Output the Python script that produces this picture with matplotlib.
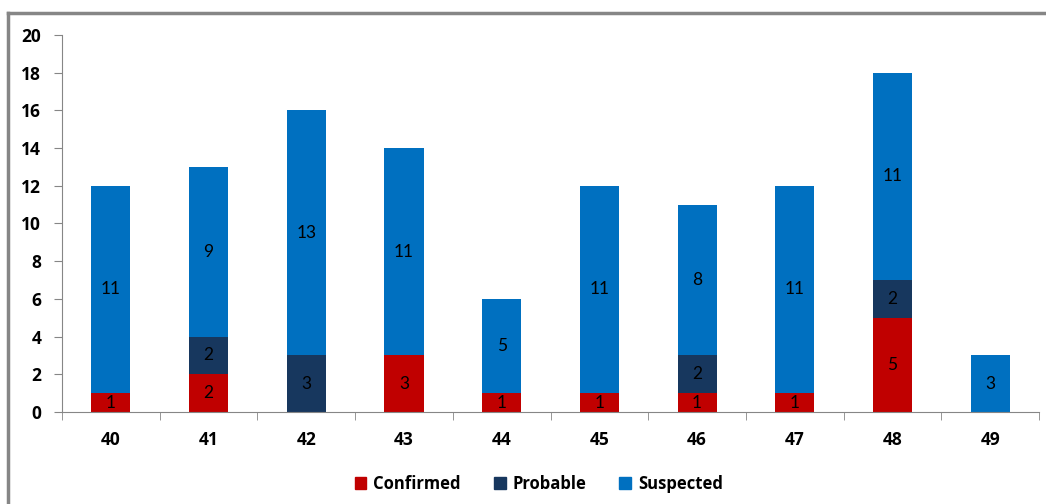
import matplotlib.pyplot as plt
import numpy as np
from matplotlib.patches import Patch
from matplotlib.lines import Line2D

weeks = ['40', '41', '42', '43', '44', '45', '46', '47', '48', '49']
confirmed = [1, 2, 0, 3, 1, 1, 1, 1, 5, 0]
probable = [0, 2, 3, 0, 0, 0, 2, 0, 2, 0]
suspected = [11, 9, 13, 11, 5, 11, 8, 11, 11, 3]

colors = ['#C00000', '#17375E', '#0070C0']
names = ['Confirmed', 'Probable', 'Suspected']

plt.rcParams['font.family'] = ['Lato', 'DejaVu Sans']
bold = {'family': ['Open Sans', 'DejaVu Sans'], 'weight': 'bold'}

fig = plt.figure(figsize=(10.46, 5.04), dpi=100)
ax = fig.add_axes([0.0593, 0.1825, 0.934, 0.7481])

x = np.arange(len(weeks))
bottom = np.zeros(len(weeks))
for vals, c in zip([confirmed, probable, suspected], colors):
    bars = ax.bar(x, vals, 0.4, bottom=bottom, color=c)
    for b, v, y0 in zip(bars, vals, bottom):
        if v > 0:
            ax.text(b.get_x() + b.get_width() / 2, y0 + v / 2, str(v),
                    ha='center', va='center', fontsize=12.5, color='black')
    bottom += np.array(vals)

ax.set_xlim(-0.5, 9.5)
ax.set_ylim(0, 20)
ax.set_yticks(range(0, 21, 2))
ax.set_xticks(x)
ax.set_xticklabels(weeks)
ax.set_xticks(np.arange(-0.5, 10, 1), minor=True)
ax.tick_params(axis='x', which='major', length=0, pad=14, labelsize=12.5)
ax.tick_params(axis='x', which='minor', length=6, color='#868686', direction='out')
ax.tick_params(axis='y', length=6, color='#868686', pad=9, labelsize=12.5)
for lbl in ax.get_xticklabels() + ax.get_yticklabels():
    lbl.set_fontfamily(bold['family'])
    lbl.set_fontweight('bold')

for s in ['top', 'right']:
    ax.spines[s].set_visible(False)
for s in ['left', 'bottom']:
    ax.spines[s].set_color('#868686')

# outer chart frame
fig.add_artist(Line2D([8 / 1046, 8 / 1046], [0, 1 - 13 / 504], color='#868686', lw=2.5))
fig.add_artist(Line2D([8 / 1046, 1], [1 - 13 / 504, 1 - 13 / 504], color='#868686', lw=2.5))

handles = [Patch(color=c) for c in colors]
fig.legend(handles, names, loc='center', bbox_to_anchor=(0.515, 1 - 484 / 504), ncol=3,
           frameon=False, prop={**bold, 'size': 12}, handlelength=0.7,
           handleheight=0.7, handletextpad=0.4, columnspacing=2.0)

fig.savefig('out.png', dpi=100)
